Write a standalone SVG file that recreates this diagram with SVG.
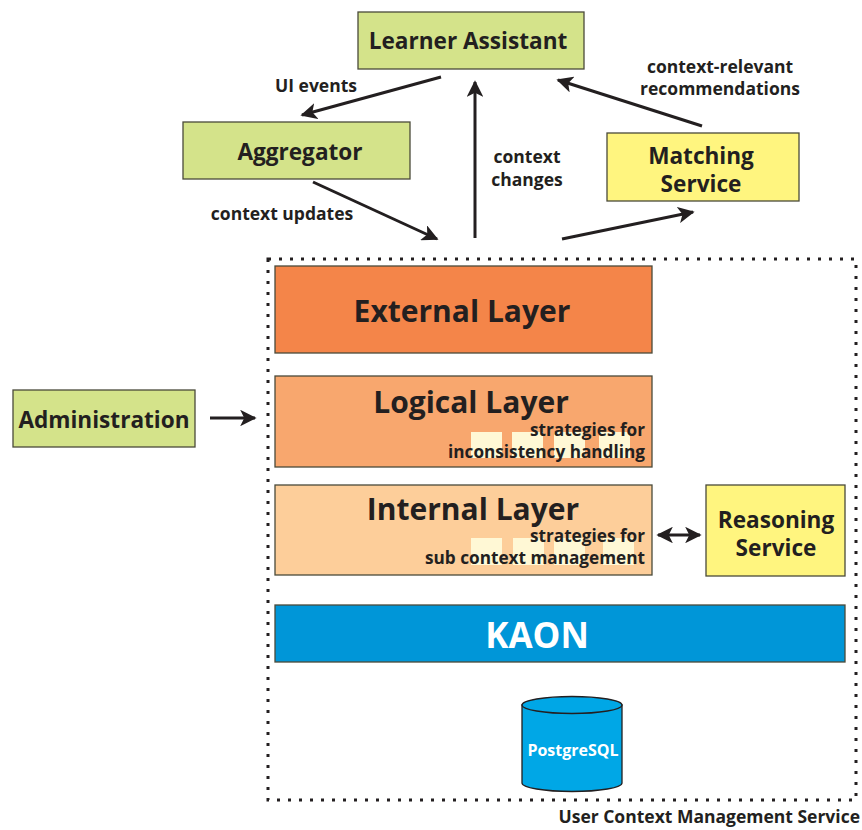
<svg xmlns="http://www.w3.org/2000/svg" width="862" height="830" viewBox="0 0 862 830">
  <defs>
    <marker id="head" viewBox="0 0 10 10" refX="9" refY="5" markerWidth="5.5" markerHeight="5.5" orient="auto-start-reverse" markerUnits="strokeWidth">
      <path d="M0,0 L10,5 L0,10 L2.5,5 Z" fill="#231f20"/>
    </marker>
  </defs>
  <style>
    text { font-family: "Open Sans", "Noto Sans", "Liberation Sans", sans-serif; font-weight: 700; fill: #231f20; }
    .box { stroke: #4a4a3a; stroke-width: 1.3; }
    .green { fill: #d4e38a; }
    .yellow { fill: #fff57f; }
    .node { font-size: 22.6px; text-anchor: middle; }
    .lbl { font-size: 17.5px; text-anchor: middle; }
    .layer { font-size: 30px; text-anchor: middle; }
    .strat { font-size: 17.2px; text-anchor: end; }
    .cream { fill: #fff8d5; }
    .conn { stroke: #231f20; stroke-width: 3; fill: none; marker-end: url(#head); }
  </style>

  <!-- service boundary -->
  <g id="boundary">
    <rect x="268" y="259" width="588" height="541" fill="none" stroke="#231f20" stroke-width="3" stroke-dasharray="3 8"/>
    <text x="860" y="823" style="font-size:17.5px;text-anchor:end">User Context Management Service</text>
  </g>

  <g id="learner-assistant">
    <rect class="box green" x="358" y="12" width="226" height="57"/>
    <text class="node" x="468" y="49">Learner Assistant</text>
  </g>

  <g id="aggregator">
    <rect class="box green" x="183" y="122" width="227" height="57"/>
    <text class="node" x="300" y="160">Aggregator</text>
  </g>

  <g id="matching-service">
    <rect class="box yellow" x="607" y="133" width="192" height="68"/>
    <text class="node" x="701" y="164">Matching</text>
    <text class="node" x="701" y="192">Service</text>
  </g>

  <g id="administration">
    <rect class="box green" x="13" y="390" width="182" height="57"/>
    <text class="node" x="104" y="428">Administration</text>
  </g>

  <g id="reasoning-service">
    <rect class="box yellow" x="706" y="485" width="139" height="91"/>
    <text class="node" x="776" y="528">Reasoning</text>
    <text class="node" x="776" y="556">Service</text>
  </g>

  <g id="external-layer">
    <rect class="box" x="275" y="266" width="377" height="87" fill="#f48549"/>
    <text class="layer" x="462" y="322">External Layer</text>
  </g>

  <g id="logical-layer">
    <rect class="box" x="275" y="376" width="377" height="91" fill="#f8a76e"/>
    <rect class="cream" x="471" y="432" width="31" height="26"/>
    <rect class="cream" x="512" y="432" width="31" height="26"/>
    <rect class="cream" x="554" y="432" width="31" height="26"/>
    <rect class="cream" x="599" y="432" width="31" height="26"/>
    <text class="layer" x="471" y="413">Logical Layer</text>
    <text class="strat" x="645" y="436">strategies for</text>
    <text class="strat" x="645" y="458">inconsistency handling</text>
  </g>

  <g id="internal-layer">
    <rect class="box" x="275" y="485" width="377" height="90" fill="#fdce9a"/>
    <rect class="cream" x="471" y="538" width="31" height="27"/>
    <rect class="cream" x="513" y="538" width="31" height="27"/>
    <rect class="cream" x="554" y="538" width="31" height="27"/>
    <rect class="cream" x="603" y="538" width="31" height="27"/>
    <text class="layer" x="473" y="520">Internal Layer</text>
    <text class="strat" x="645" y="542">strategies for</text>
    <text class="strat" x="645" y="564">sub context management</text>
  </g>

  <g id="kaon">
    <rect class="box" x="275" y="605" width="570" height="57" fill="#0096d8"/>
    <text x="537" y="648" style="font-size:35px;text-anchor:middle;fill:#ffffff">KAON</text>
  </g>

  <g id="postgresql">
    <path d="M522,705 L522,783 A50,8.5 0 0 0 622,783 L622,705 Z" fill="#00a7e6" stroke="#231f20" stroke-width="1.3"/>
    <ellipse cx="572" cy="705" rx="50" ry="8.5" fill="#00a7e6" stroke="#231f20" stroke-width="1.3"/>
    <text x="573" y="756" style="font-size:16px;text-anchor:middle;fill:#ffffff">PostgreSQL</text>
  </g>

  <!-- connectors -->
  <g id="connectors">
    <line class="conn" x1="441" y1="77" x2="302" y2="115"/>
    <line class="conn" x1="475" y1="238" x2="475" y2="82"/>
    <line class="conn" x1="313" y1="182" x2="437" y2="239"/>
    <line class="conn" x1="702" y1="126" x2="558" y2="80"/>
    <line class="conn" x1="562" y1="239" x2="693" y2="212"/>
    <line class="conn" x1="210" y1="418" x2="255" y2="418"/>
    <line class="conn" x1="658" y1="535" x2="700" y2="535" style="marker-start:url(#head)"/>
  </g>

  <!-- connector labels -->
  <g id="labels">
    <text class="lbl" x="316" y="92">UI events</text>
    <text class="lbl" x="527" y="163">context</text>
    <text class="lbl" x="527" y="186">changes</text>
    <text class="lbl" x="282" y="220">context updates</text>
    <text class="lbl" x="720" y="73">context-relevant</text>
    <text class="lbl" x="720" y="95">recommendations</text>
  </g>
</svg>
